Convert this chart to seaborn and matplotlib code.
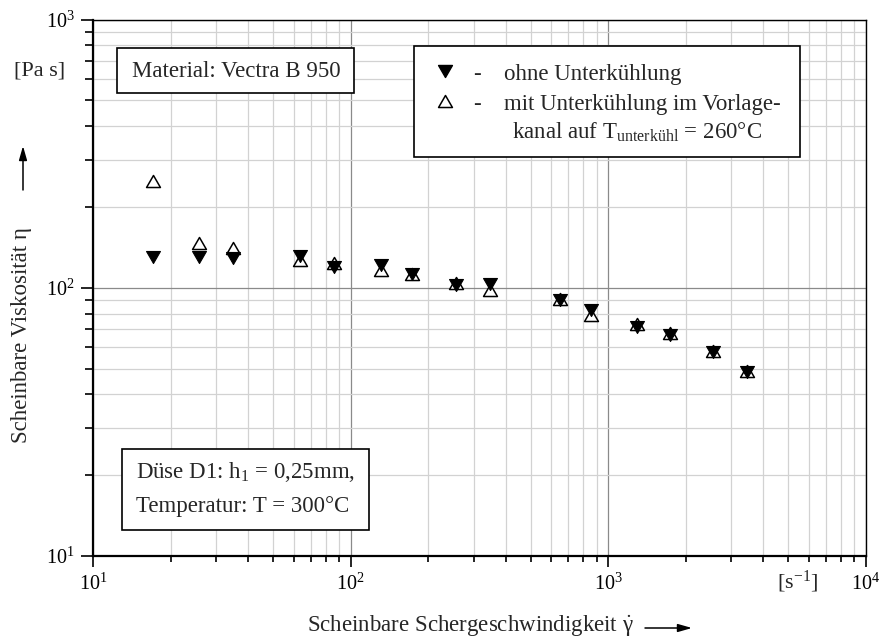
import matplotlib
matplotlib.use("Agg")
import matplotlib.pyplot as plt
from matplotlib.path import Path
from matplotlib.patches import Rectangle
from matplotlib.ticker import LogLocator, LogFormatterSciNotation, NullFormatter
import pandas as pd
import seaborn as sns

# Scheinbare Schergeschwindigkeit [1/s]
shear_rate = [17.1, 25.7, 35.0, 63.8, 86.5, 131, 173, 257, 346, 647, 859, 1291, 1730, 2552, 3460]
# Scheinbare Viskosität ohne Unterkühlung [Pa s]
eta_ohne = [130, 130, 129, 131, 120, 122, 113, 102, 103, 90.3, 82.4, 71.1, 66.5, 57.5, 48.5]
# Scheinbare Viskosität mit Unterkühlung im Vorlagekanal [Pa s]
eta_mit = [251, 147, 141, 127, 124, 116, 113, 104, 98.4, 90.8, 79.3, 73.5, 68.0, 58.2, 49.0]

serie_ohne = "ohne Unterkühlung"
serie_mit = "mit Unterkühlung"

x_limits = (10, 1e4)
y_limits = (10, 1e3)

df = pd.DataFrame({
    "shear": shear_rate + shear_rate,
    "eta": eta_ohne + eta_mit,
    "serie": [serie_ohne] * len(shear_rate) + [serie_mit] * len(shear_rate),
})

sns.set_theme(style="white")
plt.rcParams["font.family"] = ["Liberation Serif", "DejaVu Serif"]
plt.rcParams["mathtext.fontset"] = "custom"
plt.rcParams["mathtext.rm"] = "Liberation Serif"
plt.rcParams["mathtext.it"] = "Liberation Serif:italic"
plt.rcParams["mathtext.bf"] = "Liberation Serif:bold"

W, H = 882, 641
fig = plt.figure(figsize=(W / 100, H / 100), dpi=100)
L, R, T, B = 93, 866, 19.5, 556
ax = fig.add_axes([L / W, 1 - B / H, (R - L) / W, (B - T) / H])


def ap(x, y):
    """Pixel position (from top-left) -> axes fraction."""
    return (x - L) / (R - L), (B - y) / (B - T)


# equilateral triangles
tri_down = Path([(0, -0.866), (-1, 0.866), (1, 0.866), (0, -0.866)], closed=True)
tri_up = Path([(0, 0.866), (-1, -0.866), (1, -0.866), (0, 0.866)], closed=True)
msize = 100

ax.set_xscale("log")
ax.set_yscale("log")

sns.scatterplot(data=df[df.serie == serie_mit], x="shear", y="eta", marker=tri_up,
                s=msize, color="black", facecolor="white", edgecolor="black",
                linewidth=1.1, ax=ax, zorder=3, legend=False)
sns.scatterplot(data=df[df.serie == serie_ohne], x="shear", y="eta", marker=tri_down,
                s=msize, color="black", facecolor="black", edgecolor="black",
                linewidth=0.8, ax=ax, zorder=4, legend=False)

ax.set_xlim(*x_limits)
ax.set_ylim(*y_limits)
ax.set_xlabel("")
ax.set_ylabel("")

for axis in (ax.xaxis, ax.yaxis):
    axis.set_major_locator(LogLocator(base=10))
    axis.set_minor_locator(LogLocator(base=10, subs=range(2, 10)))
    axis.set_major_formatter(LogFormatterSciNotation())
    axis.set_minor_formatter(NullFormatter())

ax.grid(which="major", color="#8a8a8a", lw=0.9)
ax.grid(which="minor", color="#d2d2d2", lw=0.9)
ax.set_axisbelow(True)

ax.tick_params(axis="both", which="both", direction="out", colors="black",
               bottom=True, left=True, top=False, right=False, labelsize=14.5)
ax.tick_params(axis="y", which="major", length=9, width=1.2, pad=4)
ax.tick_params(axis="y", which="minor", length=6, width=1.2)
ax.tick_params(axis="x", which="major", length=8, width=1.2, pad=5)
ax.tick_params(axis="x", which="minor", length=4, width=1.2)

for name, sp in ax.spines.items():
    sp.set_visible(True)
    sp.set_color("black")
    sp.set_linewidth(1.6 if name in ("left", "bottom") else 1.0)

tf = ax.transAxes
fs_box = 16.5
fs_lab = 16.5

# Material box
t_mat = ax.text(*ap(131.7, 76.7), "Material: Vectra B 950", fontsize=fs_box,
                ha="left", va="baseline", transform=tf, zorder=6, clip_on=False)

# Nozzle / temperature box
t_d1 = ax.text(*ap(136, 478), r"Düse D1: h$_{1}$ = 0,25mm,", fontsize=fs_box,
               ha="left", va="baseline", transform=tf, zorder=6, clip_on=False)
t_d2 = ax.text(*ap(136, 511.7), "Temperatur: T = 300°C", fontsize=fs_box,
               ha="left", va="baseline", transform=tf, zorder=6, clip_on=False)

# Legend
lx0, lx1, ly0, ly1 = 414, 800, 46, 157
x0, y0 = ap(lx0, ly1)
x1, y1 = ap(lx1, ly0)
ax.add_patch(Rectangle((x0, y0), x1 - x0, y1 - y0, transform=tf, facecolor="white",
                       edgecolor="black", lw=1.2, zorder=5, clip_on=False))
ax.scatter(*ap(445, 70.7), marker=tri_down, s=msize, color="black", transform=tf,
           zorder=6, clip_on=False)
ax.scatter(*ap(445, 100.5), marker=tri_up, s=msize, facecolor="white", edgecolor="black",
           linewidth=1.1, transform=tf, zorder=6, clip_on=False)
for yb in (80, 110):
    ax.text(*ap(477, yb), "-", fontsize=fs_box, ha="center", va="baseline",
            transform=tf, zorder=6, clip_on=False)
ax.text(*ap(504, 80), "ohne Unterkühlung", fontsize=fs_box, ha="left", va="baseline",
        transform=tf, zorder=6, clip_on=False)
ax.text(*ap(504, 110), "mit Unterkühlung im Vorlage-", fontsize=fs_box, ha="left",
        va="baseline", transform=tf, zorder=6, clip_on=False)
ax.text(*ap(512, 139), r"kanal auf T$_{\mathrm{unterkühl}}$ = 260°C", fontsize=fs_box,
        ha="left", va="baseline", transform=tf, zorder=6, clip_on=False)

# Axis titles, units and arrows
ax.text(*ap(22, 335), "Scheinbare Viskosität η", rotation=90, fontsize=fs_lab,
        ha="center", va="center", transform=tf, clip_on=False)
ax.annotate("", xy=ap(23, 146), xytext=ap(23, 190), xycoords="axes fraction",
            textcoords="axes fraction", annotation_clip=False,
            arrowprops=dict(arrowstyle="-|>,head_length=0.7,head_width=0.2",
                            lw=1.1, color="black", shrinkA=0, shrinkB=0))
ax.text(*ap(470, 632), r"Scheinbare Schergeschwindigkeit $\dot{\mathrm{\gamma}}$",
        fontsize=fs_lab, ha="center", va="baseline", transform=tf, clip_on=False)
ax.annotate("", xy=ap(692, 628), xytext=ap(645, 628), xycoords="axes fraction",
            textcoords="axes fraction", annotation_clip=False,
            arrowprops=dict(arrowstyle="-|>,head_length=0.7,head_width=0.2",
                            lw=1.1, color="black", shrinkA=0, shrinkB=0))
ax.text(*ap(40, 71), "[Pa s]", fontsize=16, ha="center", va="center",
        transform=tf, clip_on=False)
ax.text(*ap(798, 582), r"[s$^{-1}$]", fontsize=16, ha="center", va="center",
        transform=tf, clip_on=False)

# size the text boxes around their contents
fig.canvas.draw()
rend = fig.canvas.get_renderer()


def frame(texts, left, top, bottom, pad):
    right = max(t.get_window_extent(rend).x1 for t in texts) + pad
    bx0, by0 = ap(left, bottom)
    bx1, by1 = ap(right, top)
    ax.add_patch(Rectangle((bx0, by0), bx1 - bx0, by1 - by0, transform=tf,
                           facecolor="white", edgecolor="black", lw=1.2,
                           zorder=5, clip_on=False))


frame([t_mat], 117, 48, 92.7, 14)
frame([t_d1, t_d2], 122, 449, 530, 14)

fig.savefig("out.png", dpi=100)
